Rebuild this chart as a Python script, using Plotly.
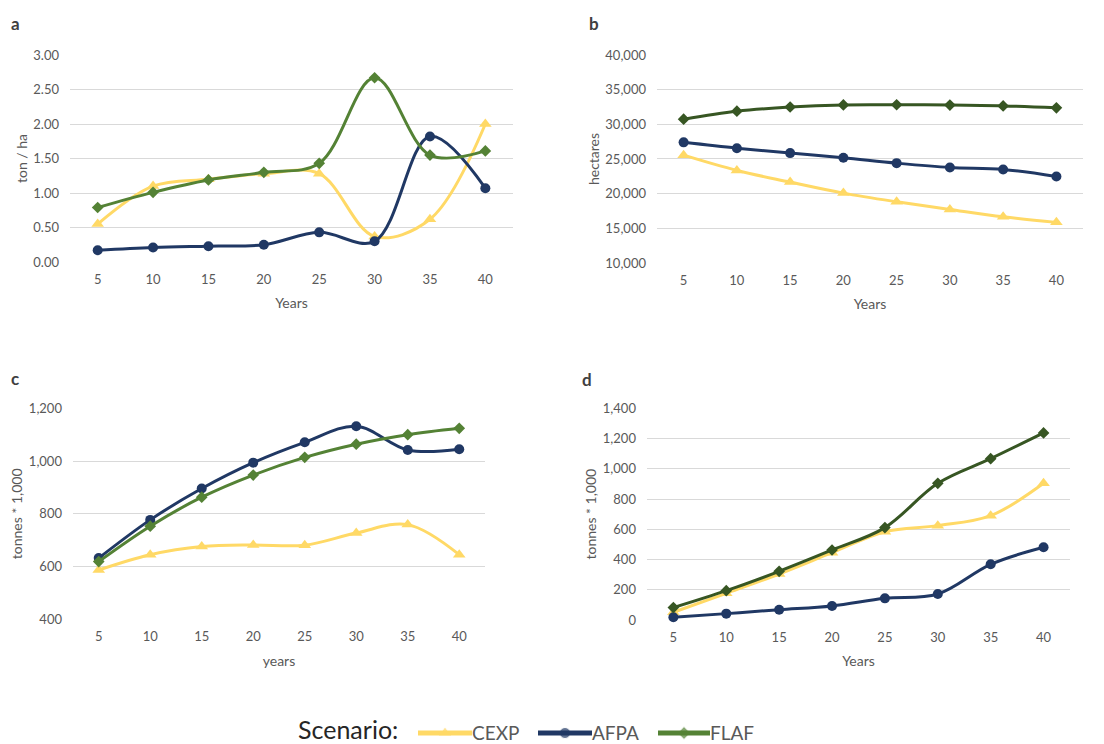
import plotly.graph_objects as go

# Simulation years (x axis shared by all panels)
years = [5, 10, 15, 20, 25, 30, 35, 40]

# Panel a: yield (ton / ha)
a_cexp = [0.55, 1.10, 1.20, 1.28, 1.28, 0.37, 0.62, 2.00]
a_afpa = [0.17, 0.21, 0.23, 0.25, 0.43, 0.30, 1.82, 1.07]
a_flaf = [0.79, 1.01, 1.19, 1.30, 1.43, 2.67, 1.55, 1.61]

# Panel b: area (hectares)
b_cexp = [25550, 23350, 21670, 20080, 18830, 17730, 16670, 15860]
b_afpa = [27400, 26560, 25850, 25170, 24400, 23780, 23490, 22480]
b_flaf = [30740, 31890, 32500, 32800, 32820, 32780, 32660, 32380]

# Panel c: production (tonnes * 1,000)
c_cexp = [587, 645, 676, 682, 681, 727, 759, 645]
c_afpa = [632, 777, 896, 994, 1071, 1132, 1042, 1045]
c_flaf = [619, 753, 863, 947, 1014, 1064, 1100, 1124]

# Panel d: cumulative production (tonnes * 1,000)
d_cexp = [51, 176, 304, 445, 584, 624, 690, 904]
d_afpa = [18, 42, 68, 93, 143, 172, 368, 481]
d_flaf = [82, 194, 322, 463, 611, 904, 1067, 1237]

scenarios = ["CEXP", "AFPA", "FLAF"]

YELLOW = "#FFD966"
NAVY = "#203864"
GREEN = "#548235"
DARK_GREEN = "#375623"
GRID = "#D9D9D9"
TXT = "#595959"
FONT = "Lato"
W, H = 1104, 744

symbols = {"CEXP": "triangle-up", "AFPA": "circle", "FLAF": "diamond"}
sizes = {"CEXP": 11, "AFPA": 10, "FLAF": 9}

panels = [
    dict(key="a", data=[a_cexp, a_afpa, a_flaf], green=GREEN,
         xdom=[0.0634, 0.4647], ydom=[0.6478, 0.9261], yr=[0, 3], dt=0.5,
         fmt=".2f", ytitle="ton / ha", xtitle="Years"),
    dict(key="b", data=[b_cexp, b_afpa, b_flaf], green=DARK_GREEN,
         xdom=[0.5951, 0.9810], ydom=[0.6465, 0.9261], yr=[10000, 40000], dt=5000,
         fmt=",.0f", ytitle="hectares", xtitle="Years"),
    dict(key="c", data=[c_cexp, c_afpa, c_flaf], green=GREEN,
         xdom=[0.0661, 0.4393], ydom=[0.1676, 0.4512], yr=[400, 1200], dt=200,
         fmt=",.0f", ytitle="tonnes * 1,000", xtitle="years"),
    dict(key="d", data=[d_cexp, d_afpa, d_flaf], green=DARK_GREEN,
         xdom=[0.5860, 0.9692], ydom=[0.1667, 0.4512], yr=[0, 1400], dt=200,
         fmt=",.0f", ytitle="tonnes * 1,000", xtitle="Years"),
]

fig = go.Figure()
layout = {}

for i, p in enumerate(panels):
    n = "" if i == 0 else str(i + 1)
    colors = [YELLOW, NAVY, p["green"]]
    for name, vals, col in zip(scenarios, p["data"], colors):
        fig.add_trace(go.Scatter(
            x=years, y=vals, name=name, mode="lines+markers",
            line=dict(color=col, width=3, shape="spline", smoothing=1.0),
            marker=dict(symbol=symbols[name], size=sizes[name], color=col),
            xaxis="x" + n, yaxis="y" + n, showlegend=False,
            cliponaxis=False,
        ))
    layout["xaxis" + n] = dict(
        domain=p["xdom"], anchor="y" + n, range=[2.5, 42.5],
        tickvals=years, showgrid=False, zeroline=False, showline=False,
        ticks="", ticklabelstandoff=8, automargin=False,
        tickfont=dict(family=FONT, size=13, color=TXT),
        title=dict(text=p["xtitle"], standoff=12,
                   font=dict(family=FONT, size=14, color=TXT)),
    )
    layout["yaxis" + n] = dict(
        domain=p["ydom"], anchor="x" + n, range=p["yr"], dtick=p["dt"],
        tickformat=p["fmt"], showgrid=True, gridcolor=GRID, gridwidth=1,
        zeroline=False, showline=False, ticks="", ticklabelstandoff=10,
        automargin=False,
        tickfont=dict(family=FONT, size=13, color=TXT),
        title=dict(text=p["ytitle"], standoff=2,
                   font=dict(family=FONT, size=14, color=TXT)),
    )

fig.update_layout(**layout)

# Panel letters
letters = [("a", 15, 24), ("b", 594, 24), ("c", 15, 378), ("d", 587, 379)]
annotations = []
for t, px, py in letters:
    annotations.append(dict(
        text="<b>%s</b>" % t, x=px / W, y=1 - py / H, xref="paper", yref="paper",
        xanchor="center", yanchor="middle", showarrow=False,
        font=dict(family=FONT, size=17, color="#404040"),
    ))

# Legend row at the bottom
LEG_PX = 733
LEG_Y = 1 - LEG_PX / H
annotations.append(dict(
    text="Scenario:", x=297 / W, y=1 - 729 / H, xref="paper", yref="paper",
    xanchor="left", yanchor="middle", showarrow=False, borderpad=0,
    font=dict(family=FONT, size=25, color="#262626"),
))
shapes = []
legend_items = [("CEXP", YELLOW, 418, 472), ("AFPA", NAVY, 538, 592), ("FLAF", GREEN, 658, 710)]
for name, col, x0, x1 in legend_items:
    shapes.append(dict(type="line", xref="paper", yref="paper",
                       x0=x0 / W, x1=x1 / W, y0=LEG_Y, y1=LEG_Y,
                       line=dict(color=col, width=5)))
    annotations.append(dict(
        text=name, x=(x1 - 1) / W, y=1 - 732 / H, xref="paper", yref="paper",
        xanchor="left", yanchor="middle", showarrow=False, borderpad=0,
        font=dict(family=FONT, size=19, color=TXT),
    ))

fig.update_layout(
    width=W, height=H,
    margin=dict(l=0, r=0, t=0, b=0, autoexpand=False),
    paper_bgcolor="white", plot_bgcolor="rgba(0,0,0,0)",
    annotations=annotations, shapes=shapes,
    showlegend=False,
)

# Legend marker glyphs on a hidden full-page overlay axis (pixel units)
fig.add_trace(go.Scatter(
    x=[445, 565, 684], y=[LEG_PX] * 3, mode="markers",
    marker=dict(symbol=["triangle-up", "circle", "diamond"],
                size=[12, 11, 10], color=[YELLOW, NAVY, GREEN]),
    xaxis="x5", yaxis="y5", showlegend=False, hoverinfo="skip",
    cliponaxis=False,
))
fig.update_layout(
    xaxis5=dict(domain=[0, 1], range=[0, W], visible=False, anchor="y5",
                fixedrange=True, automargin=False),
    yaxis5=dict(domain=[0, 1], range=[H, 0], visible=False, anchor="x5",
                fixedrange=True, automargin=False),
)

fig.write_html("out.html")
